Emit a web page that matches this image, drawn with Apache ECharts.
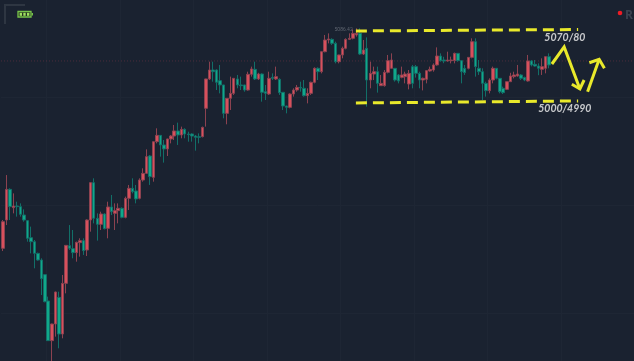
<!DOCTYPE html>
<html>
<head>
<meta charset="utf-8">
<style>html,body{margin:0;padding:0;background:#1a2230}#c{width:634px;height:361px}</style>
<script src="https://cdn.jsdelivr.net/npm/echarts@6/dist/echarts.min.js"></script>
</head>
<body>
<div id="c"></div>
<script>
// each row: open, close, low, high
const candles = [
[4816.6,4849.9,4813.2,4852],[4852,4890.3,4845.7,4908.2],[4890.3,4868.7,4852,4891.6],[4867.4,4869.5,4860.3,4885.3],
[4869.5,4868.7,4856.2,4874.9],[4868.7,4859.1,4856.2,4872.8],[4858.2,4852,4849.9,4865.3],[4851.2,4829.1,4824.9,4852],
[4829.9,4824.9,4810.3,4843.7],[4824.9,4810.3,4791.6,4827],[4810.3,4802,4801.2,4811.2],[4802,4778.7,4758.2,4804.1],
[4783.7,4749.9,4749.1,4784.1],[4750.8,4701.2,4700.8,4756.2],[4701.2,4722,4674.9,4722.4],[4722,4762,4706.2,4762.4],
[4755.3,4709.5,4691.6,4762.4],[4709.5,4772.8,4704.1,4783.3],[4772.8,4820.3,4760.3,4820.7],[4819.9,4816.6,4814.5,4845.7],
[4816.2,4811.2,4804.1,4839.5],[4811.2,4824.1,4799.9,4824.9],[4823.7,4826.2,4806.2,4829.1],[4826.2,4813.7,4808.3,4829.1],
[4814.5,4852,4807,4852.8],[4852,4898.7,4837.4,4899],[4898.7,4854.1,4847.8,4904.1],[4854.1,4846.6,4826.2,4860.3],
[4846.6,4859.5,4839.5,4862.4],[4859.5,4841.2,4840.3,4860.3],[4841.6,4868.3,4829.1,4874.9],[4868.3,4862.4,4858.2,4883.3],
[4860.3,4863.7,4839.5,4872.8],[4863.7,4866.6,4847.8,4872.8],[4866.6,4855.3,4854.1,4867.8],[4855.3,4879.1,4854.1,4881.2],
[4879.1,4891.6,4864.5,4895.8],[4891.6,4887.4,4885.3,4904.1],[4888.3,4878.3,4872.8,4895.8],[4879.1,4902,4877.8,4904.1],
[4902,4910.3,4899.9,4916.6],[4910.3,4931.2,4910,4940.3],[4932,4906.2,4895.8,4933.3],[4905.3,4949.9,4899.9,4950.2],
[4949.9,4957.8,4947.8,4966.6],[4957.8,4945.8,4931.2,4958],[4945.8,4940.8,4923.7,4952],[4940.8,4953.3,4932,4953.6],
[4953.3,4957,4947.8,4958.3],[4957,4963.3,4952,4970.8],[4963.3,4958.3,4945.8,4973.7],[4958.3,4965.3,4954.1,4968.7],
[4965.3,4959.5,4954.1,4966.6],[4959.5,4958.7,4949.9,4962.4],[4959.5,4957,4949.9,4960.3],[4957,4955.3,4938.7,4958.3],
[4956.2,4955.3,4947.8,4960.3],[4956.2,4967.8,4955.3,4968.7],[4991.6,5028.3,4968.7,5028.6],[5028.3,5039.5,5027,5049.9],
[5039.5,5037.4,5024.9,5049.9],[5039.5,5024.1,5014.5,5040.3],[5026.2,5020.8,5010.3,5045.8],[5020.8,4985.3,4979.1,5021],
[4985.3,5004.1,4971.6,5004.4],[5004.1,5010.3,4989.5,5031.2],[5010.3,5029.1,5008.3,5029.4],[5028.3,5020.8,5016.6,5033.3],
[5020.8,5019.9,5014.5,5031.2],[5020.8,5014.5,5012.4,5021],[5014.5,5034.1,5013.7,5037.4],[5034.1,5040.8,5031.2,5043.7],
[5040.3,5028.3,5027,5049.9],[5028.3,5034.5,5027,5036],[5034.5,5011.6,4999.9,5035.3],[5012.4,5010.3,5002,5020.8],
[5009.5,5029.1,5008.3,5037.4],[5030.3,5029.1,5027,5035.3],[5028.3,5031.2,5027,5043.7],[5027.8,5011.2,5008.3,5029.1],
[5011.6,4994.5,4989.5,5011.9],[4994.5,4992.8,4985.3,4994.8],[4992.8,5009.5,4991.6,5010.3],[5009.5,5014.5,5006.2,5016.6],
[5014.5,5017.8,5012.4,5020.8],[5017.8,5017,5012.4,5024.9],[5016.6,5007.4,5006.2,5027],[5007.4,5010.3,4997.8,5016.6],
[5010.3,5024.1,5008.3,5024.9],[5024.1,5041.6,5022.8,5042.8],[5041.6,5037.4,5027,5042.8],[5037.4,5062.4,5035.3,5062.8],
[5062.4,5077,5061.6,5083.3],[5077,5078.3,5072.8,5085.3],[5077.8,5072.8,5070.8,5079.1],[5072.8,5049.9,5047.8,5074.9],
[5049.9,5058.3,5047.8,5058.6],[5058.3,5066.6,5054.1,5068.7],[5066.6,5077.8,5065.3,5079.1],[5077.8,5079.1,5077,5085.3],
[5079.1,5085.3,5077.8,5090.3],[5083.3,5085.3,5081.2,5091.6],[5085.3,5059.5,5058.3,5091.6],[5059.5,5064.5,5058.3,5077],
[5066.6,5027,4993.7,5080.3],[5027,5035.3,5016.6,5049.9],[5034.5,5037.4,5027,5043.7],[5037.4,5022.8,5011.2,5043.7],
[5019.9,5022.8,5019.5,5033.3],[5019.9,5036.6,5018.7,5039.5],[5036.6,5051.2,5035.3,5058.3],[5041.6,5052,5041.3,5060.3],
[5041.6,5027,5025,5042],[5033.3,5025.8,5022.8,5034.5],[5030.3,5033.3,5029.1,5043.7],[5031.2,5034.5,5022.8,5037.4],
[5022,5035.3,5015.3,5039.5],[5043.7,5022.8,5016.6,5045.8],[5043.7,5035.3,5030,5045.8],[5035.3,5027,5016.6,5037.4],
[5027,5029.1,5014,5030],[5027.8,5038.7,5022.8,5039.5],[5038.3,5040.3,5037.4,5043.7],[5039.5,5045.8,5037.4,5047.8],
[5045.8,5057,5044.9,5067.8],[5057,5051.2,5049.9,5060.3],[5052,5050.8,5048,5056],[5050.8,5052,5049.9,5062.4],
[5051.2,5052,5047.8,5056.2],[5051.2,5060.3,5047.8,5061.2],[5060.3,5051.2,5049.9,5060.6],[5051.2,5037.4,5022.8,5051.5],
[5041.6,5036.2,5033.3,5045.8],[5041.6,5055.3,5040.3,5055.6],[5055.3,5074.9,5054.1,5079.1],[5074.9,5043.7,5031.2,5079.1],
[5041.6,5037.4,5033.3,5052],[5037.4,5022.8,5002,5041.6],[5022.8,5013.7,5006.2,5024.9],[5013.7,5027,5010.3,5029.1],
[5027,5041.6,5022.8,5043.7],[5041.6,5029.1,5027.8,5042],[5029.1,5012.4,5010.3,5029.4],[5016.6,5011.2,5009.5,5018.7],
[5015.3,5024.9,5014.5,5025.2],[5024.9,5032,5024.5,5036],[5031.2,5033.3,5029,5037.4],[5032,5034.5,5031.2,5045.8],
[5033.3,5029.1,5027,5034.5],[5030,5027,5025.5,5031.2],[5025.8,5050.8,5025,5058.3],[5050.8,5045.8,5044,5052],
[5046.6,5044.5,5043.7,5052],[5044.5,5041.6,5033,5047.8],[5040.3,5043.7,5033.3,5054.1],[5041.6,5056.2,5035.3,5056.5],
[5056.2,5045.8,5041.6,5060.3]
];
const barSlots = 181; // chart leaves room to the right of the last candle
const categories = Array.from({length: barSlots}, (_, i) => String(i));

// drawn annotations: [bar index, price]
const resistanceLine = [[100.9, 5088.3], [164.4, 5090.1]];
const supportLine = [[100.9, 4998.3], [164.4, 5000.8]];
const lastPriceLine = [[-0.5, 5050.8], [180.5, 5050.8]];
const arrowDown = [[156.9, 5047], [160.4, 5068.3], [164.9, 5015.8]];
const arrowDownHead = [[162.6, 5021.6], [164.9, 5015.8], [166.1, 5027]];
const arrowUp = [[167.1, 5012.4], [170.4, 5052.9]];
const arrowUpHead = [[167.6, 5048.6], [170.4, 5052.9], [171.9, 5041.6]];
const priceNotes = [
  {value: [160.6, 5079.9], text: '5070/80'},
  {value: [160.6, 4991], text: '5000/4990'}
];
const highNote = [{value: [97.4, 5090], text: '5086.42'}];

const YELLOW = '#e9e92b', UP = '#d8505c', DOWN = '#10a88a', UP_WICK = '#8c4250', DOWN_WICK = '#126f68', BG = '#1a2230', GRID = '#1e2634';

function path(data, extra) {
  return Object.assign({
    type: 'line', xAxisIndex: 1, yAxisIndex: 0, data, symbol: 'none', silent: true, z: 5,
    animation: false,
    lineStyle: {color: YELLOW, width: 3, join: 'miter', cap: 'butt'}
  }, extra || {});
}
function notes(data, label) {
  return {
    type: 'scatter', xAxisIndex: 1, yAxisIndex: 0, symbolSize: 0, z: 6, silent: true, animation: false,
    data: data.map(d => ({value: d.value, name: d.text})),
    label: Object.assign({show: true, position: 'inside', formatter: p => p.name}, label)
  };
}

const chart = echarts.init(document.getElementById('c'), null, {renderer: 'canvas'});
chart.setOption({
  backgroundColor: BG,
  animation: false,
  grid: {left: 1, width: 633.5, top: -11, height: 432, outerBoundsMode: 'none'},
  xAxis: [
    {type: 'category', data: categories, boundaryGap: true,
     axisLine: {show: false}, axisTick: {show: false}, axisLabel: {show: false},
     splitLine: {show: true, interval: i => i % 21 === 13, lineStyle: {color: GRID, width: 1}}},
    {type: 'value', min: -0.5, max: 180.5, show: false}
  ],
  yAxis: [
    {type: 'value', min: 4600.75, max: 5140.75, axisLine: {show: false}, axisTick: {show: false},
     axisLabel: {show: false}, splitLine: {show: false}},
    {type: 'value', min: 0, max: 4, interval: 1, axisLine: {show: false}, axisTick: {show: false},
     axisLabel: {show: false}, splitLine: {show: true, lineStyle: {color: GRID, width: 1}}}
  ],
  series: [
    path(lastPriceLine, {z: 1, lineStyle: {color: 'rgba(190,70,85,0.3)', width: 1, type: [1, 2]}}),
    {type: 'candlestick', xAxisIndex: 0, yAxisIndex: 0, data: candles, barWidth: 3, z: 3,
     itemStyle: {color: UP, color0: DOWN, borderColor: UP_WICK, borderColor0: DOWN_WICK, borderWidth: 1}},
    path(resistanceLine, {lineStyle: {color: YELLOW, width: 3, type: [11, 6]}}),
    path(supportLine, {lineStyle: {color: YELLOW, width: 3, type: [11, 6]}}),
    path(arrowDown), path(arrowDownHead), path(arrowUp), path(arrowUpHead),
    notes(priceNotes, {color: '#f2f2f2', fontFamily: 'Lato', fontStyle: 'italic', fontWeight: 700, fontSize: 10.5}),
    notes(highNote, {color: '#6f7680', fontFamily: 'Roboto', fontSize: 5})
  ],
  graphic: [
    {type: 'polyline', shape: {points: [[5, 24], [5, 5], [25, 5]]}, style: {stroke: '#2e3642', lineWidth: 2, fill: null}},
    {type: 'rect', shape: {x: 18, y: 11.5, width: 13, height: 5.5}, style: {stroke: '#77c34a', lineWidth: 1.3, fill: '#233321'}},
    {type: 'rect', shape: {x: 31.6, y: 13, width: 1.4, height: 2.6}, style: {fill: '#77c34a'}},
    {type: 'rect', shape: {x: 19.6, y: 12.8, width: 2.4, height: 3}, style: {fill: '#9fe060'}},
    {type: 'rect', shape: {x: 23.3, y: 12.8, width: 2.4, height: 3}, style: {fill: '#9fe060'}},
    {type: 'rect', shape: {x: 27, y: 12.8, width: 2.4, height: 3}, style: {fill: '#9fe060'}},
    {type: 'circle', shape: {cx: 620, cy: 13, r: 2.3}, style: {fill: '#ee1c25'}},
    {type: 'text', x: 625, y: 10, style: {text: 'R', fill: '#3b4350', font: 'bold 12px "Open Sans"'}}
  ]
});
</script>
</body>
</html>
